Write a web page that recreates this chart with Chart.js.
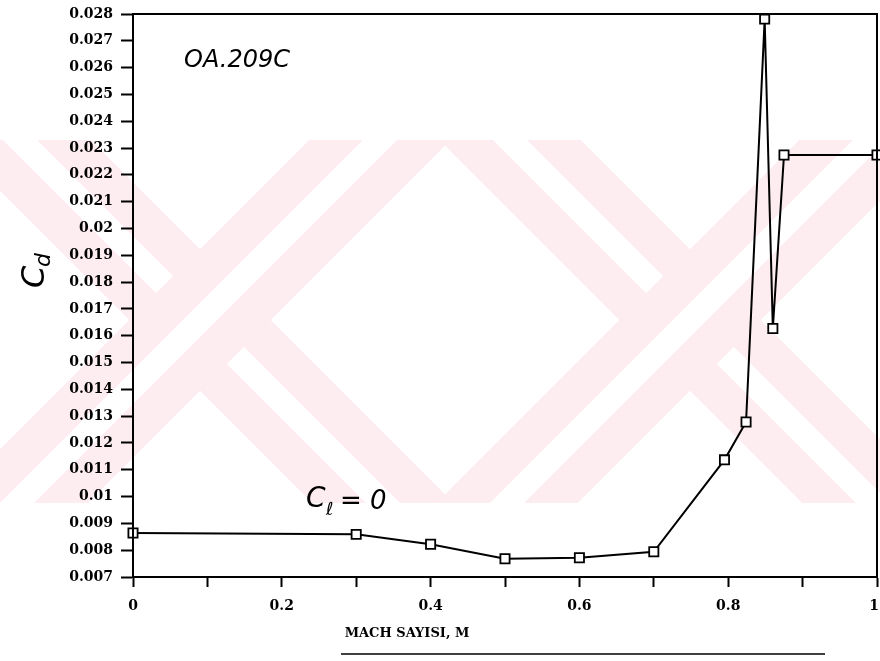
<!DOCTYPE html>
<html>
<head>
<meta charset="utf-8">
<script src="https://cdn.jsdelivr.net/npm/chart.js@4.4.1/dist/chart.umd.min.js"></script>
<style>
  html, body { margin: 0; padding: 0; background: #fff; }
  #wrap { width: 880px; height: 661px; }
</style>
</head>
<body>
<div id="wrap"><canvas id="myChart" width="880" height="661"></canvas></div>
<script>
// Mach number and drag coefficient
var machValues = [0, 0.3, 0.4, 0.5, 0.6, 0.7, 0.795, 0.824, 0.849, 0.86, 0.875, 1.0];
var cdValues = [0.00864, 0.00859, 0.00822, 0.00768, 0.00772, 0.00794, 0.01137, 0.01278, 0.02781, 0.01627, 0.02274, 0.02274];

var xMin = 0, xMax = 1, xStep = 0.1;
var yMin = 0.007, yMax = 0.028, yStep = 0.001;
var xTickLabels = [0, 0.2, 0.4, 0.6, 0.8, 1];

var airfoilName = "OA.209C";
var xTitle = "MACH SAYISI, M";

var tickFont = { family: "'DejaVu Serif'", size: 14, weight: "bold" };
var handFont = "'DejaVu Sans'";

// pale pink watermark behind the plot, frame and hand written notes on top
var decorations = {
    id: "decorations",
    beforeDraw: function (chart) {
        var ctx = chart.ctx;
        ctx.save();
        ctx.beginPath();
        ctx.rect(0, 140, 880, 363);
        ctx.clip();
        var crosses = [[200, 320], [690, 320]];
        crosses.forEach(function (c) {
            [1, -1].forEach(function (dir) {
                ctx.beginPath();
                ctx.moveTo(c[0] - 300, c[1] - 300 * dir);
                ctx.lineTo(c[0] + 300, c[1] + 300 * dir);
                ctx.strokeStyle = "rgb(253,236,240)";
                ctx.lineWidth = 100;
                ctx.stroke();
                ctx.strokeStyle = "#fff";
                ctx.lineWidth = 24;
                ctx.stroke();
            });
        });
        ctx.restore();
    },
    afterDraw: function (chart) {
        var ctx = chart.ctx;
        var a = chart.chartArea;
        var xs = chart.scales.x;
        ctx.save();
        ctx.strokeStyle = "#000";
        ctx.lineWidth = 2;
        ctx.strokeRect(a.left, a.top, a.right - a.left, a.bottom - a.top);

        ctx.fillStyle = "#000";
        // x tick labels placed through the x scale
        ctx.font = "bold 14px 'DejaVu Serif'";
        ctx.textAlign = "center";
        ctx.textBaseline = "middle";
        xTickLabels.forEach(function (v) {
            var px = Math.min(xs.getPixelForValue(v), chart.width - 6);
            ctx.fillText(String(v), px, a.bottom + 29);
        });

        ctx.textAlign = "left";
        ctx.font = "italic 24px " + handFont;
        ctx.fillText(airfoilName, 184, 61);

        // C_l = 0
        ctx.font = "italic 28px " + handFont;
        ctx.fillText("C", 306, 500);
        ctx.font = "italic 18px " + handFont;
        ctx.fillText("\u2113", 326, 510);
        ctx.font = "italic 26px " + handFont;
        ctx.fillText("= 0", 340, 502);

        // C_d rotated
        ctx.translate(36, 288);
        ctx.rotate(-Math.PI / 2);
        ctx.font = "italic 32px " + handFont;
        ctx.fillText("C", 0, 0);
        ctx.font = "italic 22px " + handFont;
        ctx.fillText("d", 21, 8);
        ctx.setTransform(1, 0, 0, 1, 0, 0);

        // x axis title with underline
        ctx.font = "bold 13px 'DejaVu Serif'";
        ctx.textAlign = "center";
        ctx.fillText(xTitle, 407, 634);
        ctx.lineWidth = 1.5;
        ctx.beginPath();
        ctx.moveTo(341, 654);
        ctx.lineTo(825, 654);
        ctx.stroke();
        ctx.restore();
    }
};

var ctx = document.getElementById("myChart").getContext("2d");
var points = machValues.map(function (m, i) { return { x: m, y: cdValues[i] }; });

var myChart = new Chart(ctx, {
    type: "line",
    data: {
        datasets: [{
            label: "Cd",
            data: points,
            borderColor: "#000",
            borderWidth: 2,
            tension: 0,
            pointStyle: "rect",
            pointRadius: 6.5,
            pointBorderWidth: 1.8,
            pointBorderColor: "#000",
            pointBackgroundColor: "#fff",
            clip: false
        }]
    },
    options: {
        responsive: false,
        animation: false,
        layout: { autoPadding: false, padding: { top: 14, right: 3, left: 0, bottom: 0 } },
        plugins: { legend: { display: false }, tooltip: { enabled: false } },
        scales: {
            x: {
                type: "linear",
                min: xMin,
                max: xMax,
                afterFit: function (scale) { scale.height = 84; },
                ticks: { stepSize: xStep, autoSkip: false, display: false },
                grid: { drawOnChartArea: false, tickLength: 10, tickColor: "#000", tickWidth: 2 },
                border: { color: "#000", width: 2 }
            },
            y: {
                min: yMin,
                max: yMax,
                afterFit: function (scale) {
                    scale.width = 133;
                    scale.paddingTop = 0;
                    scale.paddingBottom = 0;
                },
                ticks: {
                    stepSize: yStep,
                    autoSkip: false,
                    color: "#000",
                    font: tickFont,
                    padding: 8,
                    callback: function (v) { return String(Number(v.toFixed(3))); }
                },
                grid: { drawOnChartArea: false, tickLength: 12, tickColor: "#000", tickWidth: 2 },
                border: { color: "#000", width: 2 }
            }
        }
    },
    plugins: [decorations]
});
</script>
</body>
</html>
